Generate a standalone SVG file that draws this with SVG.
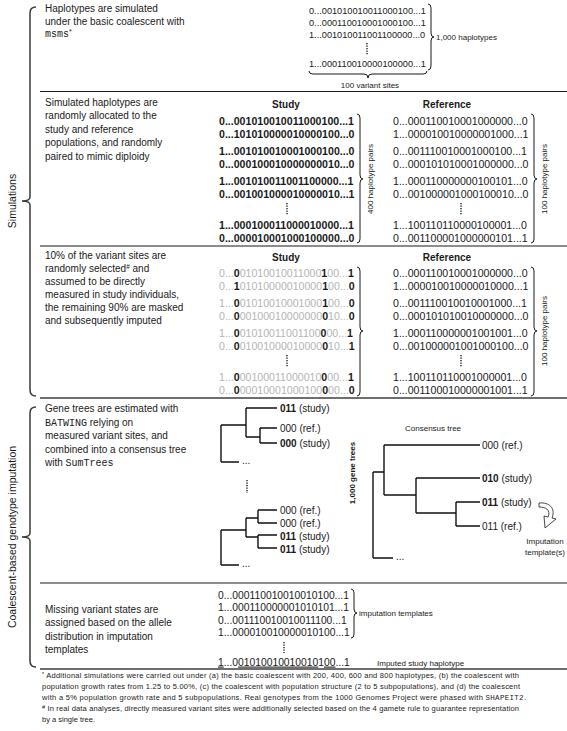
<svg xmlns="http://www.w3.org/2000/svg" width="567" height="731" viewBox="0 0 567 731">
<style>
text{font-family:"Liberation Sans",Arial,sans-serif;fill:#1a1a1a}
.t{font-size:10px}
.row{font-size:10.6px}
.r1{font-size:9.2px}
.r5{font-size:10.3px}
.b{font-weight:bold}
.g{fill:#b5b5b5}
.sm{font-size:8px}
.fn{font-size:7.5px}
.mono{font-family:"Liberation Mono","Courier New",monospace}
.side{font-size:10.5px}
.sep{stroke:#1a1a1a;stroke-width:1.2}
.sepg{stroke:#6e6e6e;stroke-width:2}
.br{fill:none;stroke:#3a3a3a;stroke-width:1.5}
.brace{fill:none;stroke:#1a1a1a;stroke-width:1}
.tree{fill:none;stroke:#111;stroke-width:1.4}
.dots{stroke:#1a1a1a;stroke-width:1.4;stroke-dasharray:1.3 1.2}
.u{text-decoration:underline}
</style>

<g id="side-brackets">
  <path class="br" d="M36,7 Q30,7 30,13 L30,197 Q30,201 22,201 Q30,201 30,205 L30,390 Q30,396 36,396"/>
  <text class="side" transform="translate(16,201) rotate(-90)" text-anchor="middle">Simulations</text>
  <path class="br" d="M36,407 Q30,407 30,413 L30,533 Q30,537 22,537 Q30,537 30,541 L30,661 Q30,667 36,667"/>
  <text class="side" transform="translate(16,537) rotate(-90)" text-anchor="middle">Coalescent-based genotype imputation</text>
</g>

<g id="separators">
  <line class="sep" x1="40" y1="91.5" x2="567" y2="91.5"/>
  <line class="sep" x1="40" y1="246" x2="567" y2="246"/>
  <line class="sepg" x1="40" y1="398" x2="567" y2="398"/>
  <line class="sep" x1="40" y1="583" x2="567" y2="583"/>
  <line class="sepg" x1="40" y1="669" x2="567" y2="669"/>
</g>

<g id="step1">
  <text class="t" x="45" y="12">Haplotypes are simulated</text>
  <text class="t" x="45" y="24.5">under the basic coalescent with</text>
  <text class="t" x="45" y="37"><tspan class="mono">msms</tspan><tspan dy="-3" font-size="7">*</tspan></text>
  <text class="r1" x="309" y="13.5">0...001010010011000100...1</text>
  <text class="r1" x="309" y="25.5">0...000110010001000100...1</text>
  <text class="r1" x="309" y="37.5">1...001010011001100000...0</text>
  <line class="dots" x1="367" y1="43" x2="367" y2="55"/>
  <text class="r1" x="309" y="67">1...000110010000100000...1</text>
  <path class="brace" d="M428,4 Q431,4 431,8 L431,33 Q431,37 434,37 Q431,37 431,41 L431,66 Q431,70 428,70"/>
  <text class="sm" x="436" y="40">1,000 haplotypes</text>
  <path class="brace" d="M309,71 Q309,74 313,74 L364,74 Q368,74 368,78 Q368,74 372,74 L423,74 Q427,74 427,71"/>
  <text class="sm" x="370" y="88" text-anchor="middle">100 variant sites</text>
</g>

<g id="step2">
  <text class="t" x="45" y="105.5">Simulated haplotypes are</text>
  <text class="t" x="45" y="119">randomly allocated to the</text>
  <text class="t" x="45" y="132.5">study and reference</text>
  <text class="t" x="45" y="146">populations, and randomly</text>
  <text class="t" x="45" y="159.5">paired to mimic diploidy</text>
  <text class="t b" x="286" y="108" text-anchor="middle">Study</text>
  <text class="t b" x="447" y="108" text-anchor="middle">Reference</text>
  <text class="row b" x="219" y="124.6">0...001010010011000100...1</text>
  <text class="row b" x="219" y="137.6">0...101010000010000100...0</text>
  <text class="row b" x="219" y="154.6">1...001010010001000100...0</text>
  <text class="row b" x="219" y="167.6">0...000100010000000010...0</text>
  <text class="row b" x="219" y="184.6">1...001010011001100000...1</text>
  <text class="row b" x="219" y="197.6">0...001001000010000010...1</text>
  <text class="row b" x="219" y="228.6">1...000100011000010000...1</text>
  <text class="row b" x="219" y="241.6">0...000010001000100000...0</text>
  <line class="dots" x1="287" y1="203" x2="287" y2="215"/>
  <path class="brace" d="M357,114 Q360,114 360,118 L360,175 Q360,179 363,179 Q360,179 360,183 L360,239 Q360,243 357,243"/>
  <text class="sm" transform="translate(373,179) rotate(-90)" text-anchor="middle">400 haplotype pairs</text>
  <text class="row" x="393" y="124.6">0...000110010001000000...0</text>
  <text class="row" x="393" y="137.6">1...000010010000001000...1</text>
  <text class="row" x="393" y="154.6">0...001110010001000100...1</text>
  <text class="row" x="393" y="167.6">0...000101010001000000...0</text>
  <text class="row" x="393" y="184.6">1...000110000000100101...0</text>
  <text class="row" x="393" y="197.6">0...001000001000100010...0</text>
  <line class="dots" x1="461" y1="203" x2="461" y2="215"/>
  <text class="row" x="393" y="228.6">1...100110110000100001...0</text>
  <text class="row" x="393" y="241.6">0...001100001000000101...1</text>
  <path class="brace" d="M531,114 Q534,114 534,118 L534,175 Q534,179 537,179 Q534,179 534,183 L534,239 Q534,243 531,243"/>
  <text class="sm" transform="translate(547,179) rotate(-90)" text-anchor="middle">100 haplotype pairs</text>
</g>

<g id="step3">
  <text class="t" x="45" y="258.6">10% of the variant sites are</text>
  <text class="t" x="45" y="271.6">randomly selected<tspan dy="-3" font-size="6.5">#</tspan><tspan dy="3"> and</tspan></text>
  <text class="t" x="45" y="284.6">assumed to be directly</text>
  <text class="t" x="45" y="297.6">measured in study individuals,</text>
  <text class="t" x="45" y="310.6">the remaining 90% are masked</text>
  <text class="t" x="45" y="323.6">and subsequently imputed</text>
  <text class="t b" x="286" y="261" text-anchor="middle">Study</text>
  <text class="t b" x="447" y="261" text-anchor="middle">Reference</text>
  <text class="row" x="219" y="276.6"><tspan class="g">0...</tspan><tspan class="b">0</tspan><tspan class="g">01010010011000</tspan><tspan class="b">1</tspan><tspan class="g">00...</tspan><tspan class="b">1</tspan></text>
  <text class="row" x="219" y="289.6"><tspan class="g">0...</tspan><tspan class="b">1</tspan><tspan class="g">01010000010000</tspan><tspan class="b">1</tspan><tspan class="g">00...</tspan><tspan class="b">0</tspan></text>
  <text class="row" x="219" y="306.6"><tspan class="g">1...</tspan><tspan class="b">0</tspan><tspan class="g">01010010001000</tspan><tspan class="b">1</tspan><tspan class="g">00...</tspan><tspan class="b">0</tspan></text>
  <text class="row" x="219" y="319.6"><tspan class="g">0...</tspan><tspan class="b">0</tspan><tspan class="g">00100010000000</tspan><tspan class="b">0</tspan><tspan class="g">10...</tspan><tspan class="b">0</tspan></text>
  <text class="row" x="219" y="336.6"><tspan class="g">1...</tspan><tspan class="b">0</tspan><tspan class="g">01010011001100</tspan><tspan class="b">0</tspan><tspan class="g">00...</tspan><tspan class="b">1</tspan></text>
  <text class="row" x="219" y="349.6"><tspan class="g">0...</tspan><tspan class="b">0</tspan><tspan class="g">01001000010000</tspan><tspan class="b">0</tspan><tspan class="g">10...</tspan><tspan class="b">1</tspan></text>
  <line class="dots" x1="287" y1="355" x2="287" y2="367"/>
  <text class="row" x="219" y="380.6"><tspan class="g">1...</tspan><tspan class="b">0</tspan><tspan class="g">00100011000010</tspan><tspan class="b">0</tspan><tspan class="g">00...</tspan><tspan class="b">1</tspan></text>
  <text class="row" x="219" y="393.6"><tspan class="g">0...</tspan><tspan class="b">0</tspan><tspan class="g">00010001000100</tspan><tspan class="b">0</tspan><tspan class="g">00...</tspan><tspan class="b">0</tspan></text>
  <path class="brace" d="M357,267 Q360,267 360,271 L360,327 Q360,331 363,331 Q360,331 360,335 L360,392 Q360,396 357,396"/>
  <text class="row" x="393" y="276.6">0...000110010001000000...0</text>
  <text class="row" x="393" y="289.6">1...000010010000010000...1</text>
  <text class="row" x="393" y="306.6">0...001110010010001000...1</text>
  <text class="row" x="393" y="319.6">0...000101010010000000...0</text>
  <text class="row" x="393" y="336.6">1...000110000001001001...0</text>
  <text class="row" x="393" y="349.6">0...001000001001000100...0</text>
  <line class="dots" x1="461" y1="355" x2="461" y2="367"/>
  <text class="row" x="393" y="380.6">1...100110110001000001...0</text>
  <text class="row" x="393" y="393.6">0...001100010000001001...1</text>
  <path class="brace" d="M531,267 Q534,267 534,271 L534,327 Q534,331 537,331 Q534,331 534,335 L534,392 Q534,396 531,396"/>
  <text class="sm" transform="translate(547,331) rotate(-90)" text-anchor="middle">100 haplotype pairs</text>
</g>

<g id="step4">
  <text class="t" x="45" y="412">Gene trees are estimated with</text>
  <text class="t" x="45" y="425.5"><tspan class="mono">BATWING</tspan>  relying on</text>
  <text class="t" x="45" y="439">measured variant sites, and</text>
  <text class="t" x="45" y="452.5">combined into a consensus tree</text>
  <text class="t" x="45" y="466">with <tspan class="mono">SumTrees</tspan></text>
</g>

<g id="gene-tree-1">
  <path class="tree" d="M221,425 V462 M221,425 H246 M221,462 H239 M246,408 V437 M246,408 H277 M246,437 H260 M260,428 V443 M260,428 H277 M260,443 H277"/>
  <text class="t" x="280" y="411.5"><tspan class="b">011</tspan> (study)</text>
  <text class="t" x="280" y="431.5">000 (ref.)</text>
  <text class="t" x="280" y="446.5"><tspan class="b">000</tspan> (study)</text>
  <text class="t" x="242" y="464">...</text>
</g>
<line class="dots" x1="247" y1="480" x2="247" y2="493"/>
<g id="gene-tree-2">
  <path class="tree" d="M221,530 V565 M221,530 H246 M221,565 H239 M246,518 V537 M246,518 H258 M258,510 V523 M258,510 H277 M258,523 H277 M246,537 H258 M258,535 V548 M258,535 H277 M258,548 H277"/>
  <text class="t" x="280" y="513.5">000 (ref.)</text>
  <text class="t" x="280" y="526.5">000 (ref.)</text>
  <text class="t" x="280" y="539.5"><tspan class="b">011</tspan> (study)</text>
  <text class="t" x="280" y="552.5"><tspan class="b">011</tspan> (study)</text>
  <text class="t" x="242" y="567">...</text>
</g>
<text class="sm b" font-size="7.5" transform="translate(355,473) rotate(-90)" text-anchor="middle">1,000 gene trees</text>

<g id="consensus-tree">
  <text class="sm" x="405" y="431">Consensus tree</text>
  <path class="tree" d="M373,472 V558 M373,472 H384 M373,558 H393 M384,445 V495 M384,445 H480 M384,495 H416 M416,478 V513 M416,478 H480 M416,513 H456 M456,502 V526 M456,502 H480 M456,526 H480"/>
  <text class="t" x="482" y="448.5">000 (ref.)</text>
  <text class="t" x="482" y="481.5"><tspan class="b">010</tspan> (study)</text>
  <text class="t" x="482" y="505.5"><tspan class="b">011</tspan> (study)</text>
  <text class="t" x="482" y="529.5">011 (ref.)</text>
  <text class="t" x="396" y="560">...</text>
  <path d="M539,503 C549,502 556,508 552,518 L556,519 L545,528 L544,516 L548,517 C551,510 546,507 539,507 Z" fill="#fff" stroke="#1a1a1a" stroke-width="0.8"/>
  <text class="sm" font-size="7.5" x="545" y="544" text-anchor="middle">Imputation</text>
  <text class="sm" font-size="7.5" x="545" y="555" text-anchor="middle">template(s)</text>
</g>

<g id="step5">
  <text class="t" x="45" y="612.5">Missing variant states are</text>
  <text class="t" x="45" y="626">assigned based on the allele</text>
  <text class="t" x="45" y="639.5">distribution in imputation</text>
  <text class="t" x="45" y="653">templates</text>
  <text class="r5" x="218" y="598.6">0...000110010010010100...1</text>
  <text class="r5" x="218" y="611.1">1...000110000001010101...1</text>
  <text class="r5" x="218" y="623.6">0...001110010010011100...1</text>
  <text class="r5" x="218" y="636.1">1...000010010000010100...1</text>
  <line class="dots" x1="284" y1="642" x2="284" y2="653"/>
  <text class="r5" x="218" y="665.6"><tspan class="u">1</tspan>...0<tspan class="u">01010010010010</tspan>1<tspan class="u">00</tspan>...1</text>
  <path class="brace" d="M351,589 Q354,589 354,593 L354,609 Q354,613 357,613 Q354,613 354,617 L354,634 Q354,638 351,638"/>
  <text class="sm" x="359" y="616">imputation templates</text>
  <text class="sm" x="377" y="666">Imputed study haplotype</text>
</g>

<g id="footnotes">
  <text class="fn" x="42" y="678" textLength="477" lengthAdjust="spacing"><tspan font-size="5.5" dy="-2">*</tspan><tspan dy="2"> Additional simulations were carried out under (a) the basic coalescent with 200, 400, 600 and 800 haplotypes, (b) the coalescent with</tspan></text>
  <text class="fn" x="42" y="689" textLength="478" lengthAdjust="spacing">population growth rates from 1.25 to 5.00%, (c) the coalescent with population structure (2 to 5 subpopulations), and (d) the coalescent</text>
  <text class="fn" x="42" y="700" textLength="484" lengthAdjust="spacing">with a 5% population growth rate and 5 subpopulations. Real genotypes from the 1000 Genomes Project were phased with <tspan class="mono">SHAPEIT2</tspan>.</text>
  <text class="fn" x="42" y="711" textLength="477" lengthAdjust="spacing"><tspan font-size="5.5" dy="-2">#</tspan><tspan dy="2"> In real data analyses, directly measured variant sites were additionally selected based on the 4 gamete rule to guarantee representation</tspan></text>
  <text class="fn" x="42" y="722">by a single tree.</text>
</g>
</svg>
